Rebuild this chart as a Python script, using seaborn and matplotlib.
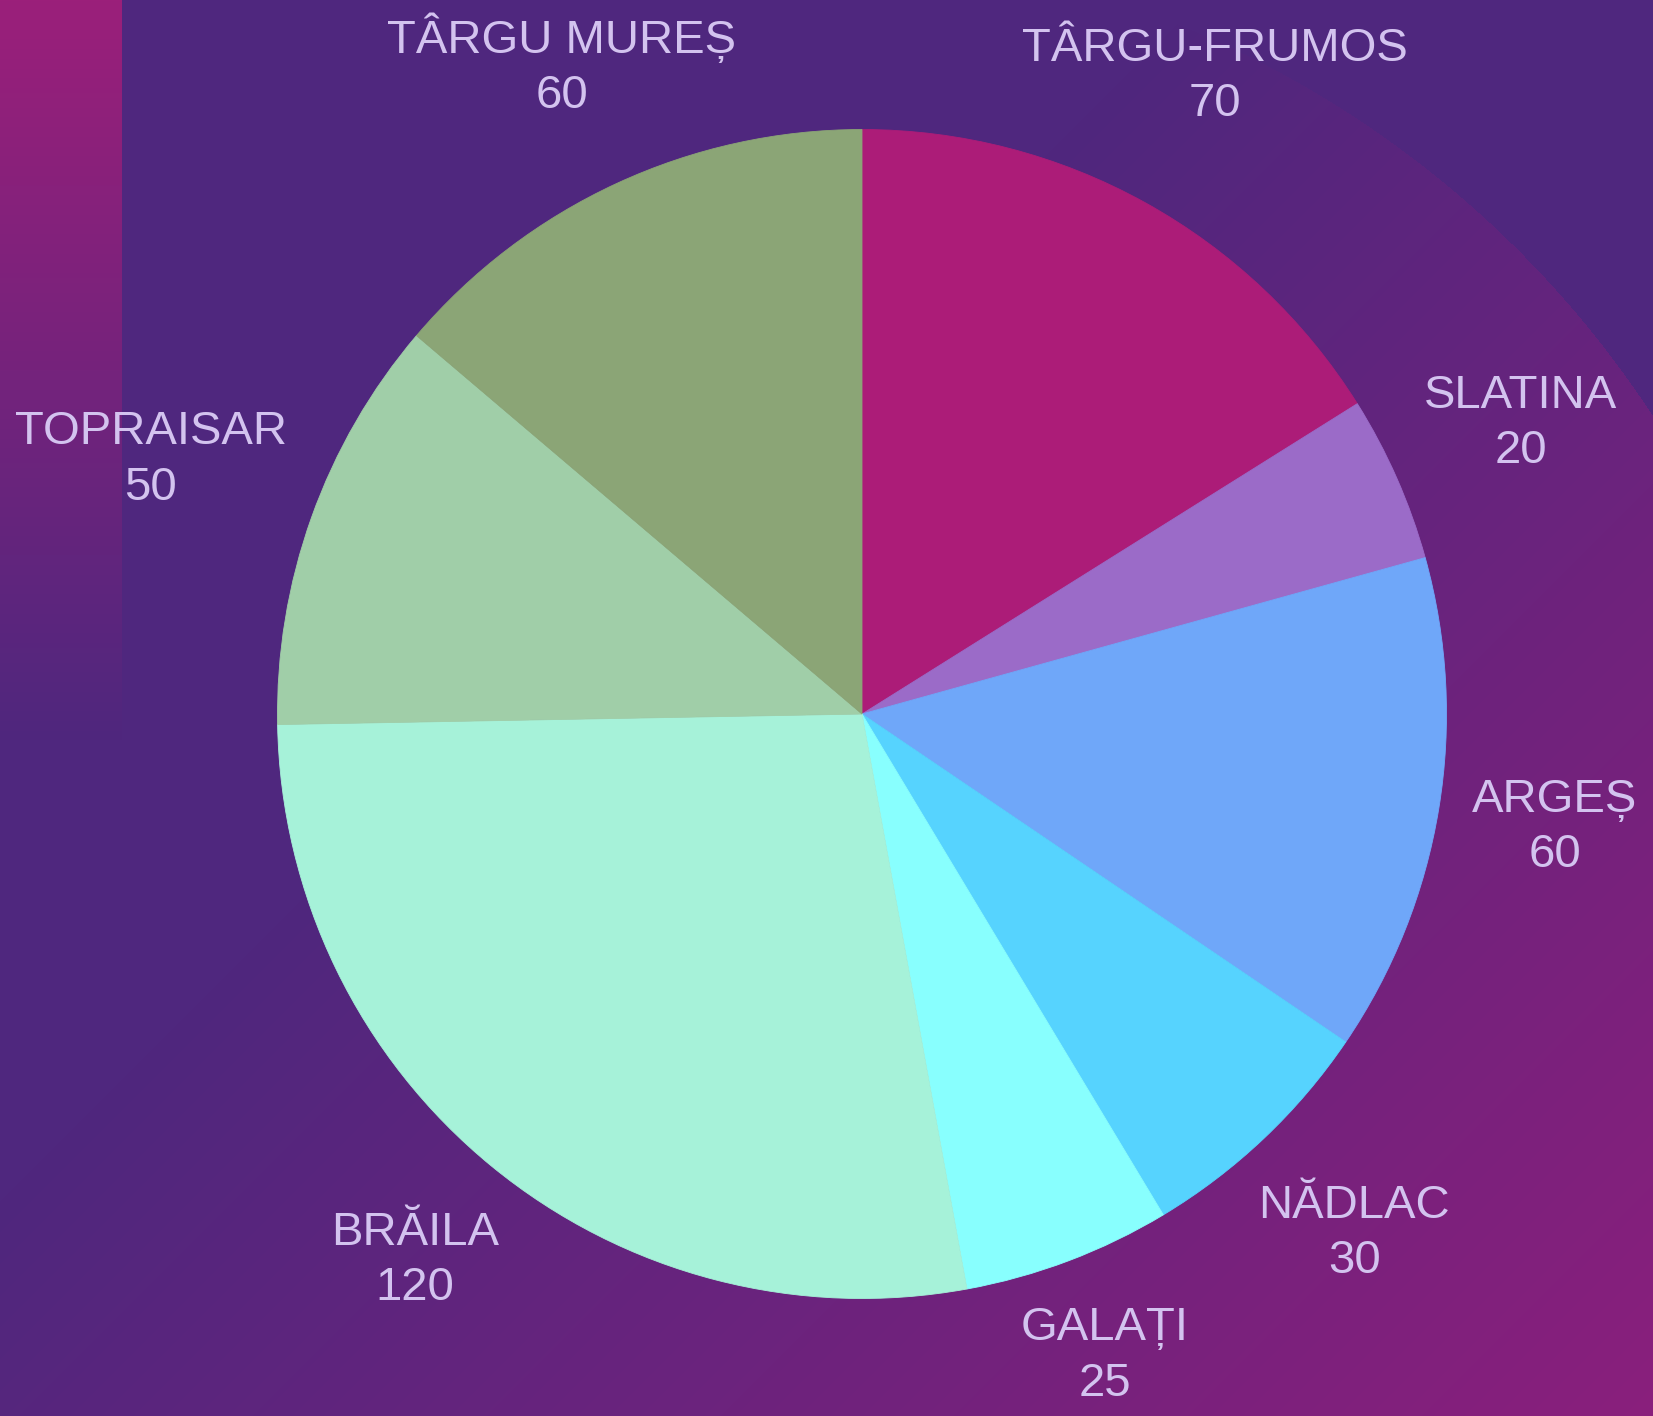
import numpy as np
import matplotlib
matplotlib.use("Agg")
import matplotlib.pyplot as plt
import seaborn as sns
from matplotlib.colors import to_rgb

# ---- data ----
cities = ["TÂRGU-FRUMOS", "SLATINA", "ARGEȘ", "NĂDLAC", "GALAȚI", "BRĂILA", "TOPRAISAR", "TÂRGU MUREȘ"]
values = [70, 20, 60, 30, 25, 120, 50, 60]
slice_colors = ["#AC1C78", "#9B6BC8", "#6FA7F9", "#56D3FE", "#88FFFE", "#A6F2D9", "#A0CEA8", "#8BA576"]

# label distance from centre, in pie radii (layout styling)
label_radius = [1.247, 1.232, 1.201, 1.225, 1.174, 1.208, 1.292, 1.223]

sns.set_theme(style="white")
plt.rcParams["font.family"] = ["Liberation Sans", "DejaVu Sans"]

W, H = 1653, 1416
DPI = 100
fig = plt.figure(figsize=(W / DPI, H / DPI), dpi=DPI)

# ---- background gradient ----
yy, xx = np.mgrid[0:H, 0:W].astype(float)
c0 = np.array(to_rgb("#4F277E"))
c1 = np.array(to_rgb("#8A1F7C"))
cs = np.array(to_rgb("#9B1F7A"))
t = np.clip((xx + yy - 1200) / 1870.0, 0, 1)
outside = (xx - 789) ** 2 + (yy - 979) ** 2 > 1031 ** 2
t = np.where(outside, 0.0, t)
img = c0[None, None, :] * (1 - t[..., None]) + c1[None, None, :] * t[..., None]
strip = (xx < 122) & (yy < 740)
t2 = np.clip(1 - yy / 740.0, 0, 1)
strip_col = c0[None, None, :] * (1 - t2[..., None]) + cs[None, None, :] * t2[..., None]
img = np.where(strip[..., None], strip_col, img)

bg = fig.add_axes([0, 0, 1, 1], zorder=0)
bg.imshow(img, aspect="auto", extent=[0, W, H, 0], interpolation="bilinear")
bg.set_axis_off()

# ---- pie ----
ax = fig.add_axes([0, 0, 1, 1], zorder=1)
ax.patch.set_alpha(0)
wedges, _ = ax.pie(values, colors=slice_colors, startangle=90, counterclock=False,
                   wedgeprops=dict(linewidth=0))
for w in wedges:
    w.set_edgecolor(w.get_facecolor())
    w.set_linewidth(0.6)

cx, cy, R = 862.0, 714.0, 584.5
ax.set_xlim(-cx / R, (W - cx) / R)
ax.set_ylim(-(H - cy) / R, cy / R)
ax.set_aspect("auto")
ax.set_axis_off()

for w, name, v, d in zip(wedges, cities, values, label_radius):
    ang = np.deg2rad((w.theta1 + w.theta2) / 2)
    x, y = d * np.cos(ang), d * np.sin(ang)
    ax.text(x, y, f"{name}\n{v}", ha="center", va="center", fontsize=34,
            color="#D3C3EF", linespacing=1.33, multialignment="center")

fig.savefig("out.png", dpi=DPI)
